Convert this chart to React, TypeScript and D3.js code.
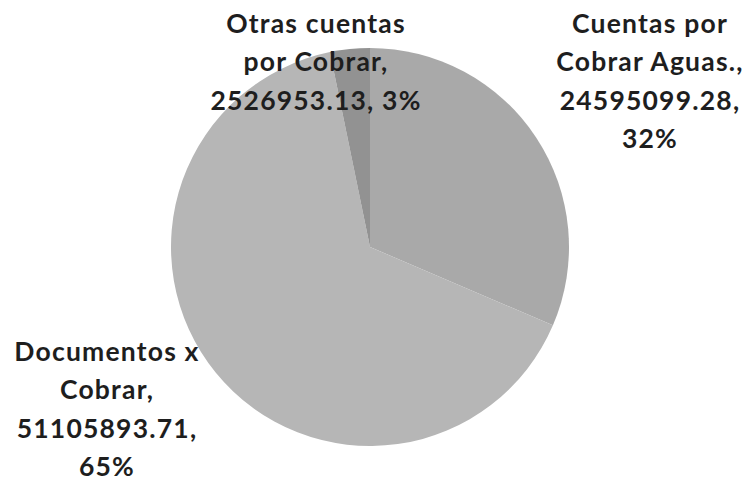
import React from "react";
import * as d3 from "d3";

const categories = ["Cuentas por Cobrar Aguas.", "Documentos x Cobrar", "Otras cuentas por Cobrar"];
const values = [24595099.28, 51105893.71, 2526953.13];
const percentLabels = ["32%", "65%", "3%"];
const labelLines = [
  ["Cuentas por", "Cobrar Aguas.,", "24595099.28,", "32%"],
  ["Documentos x", "Cobrar,", "51105893.71,", "65%"],
  ["Otras cuentas", "por Cobrar,", "2526953.13, 3%"],
];
const colors = ["#a9a9a9", "#b6b6b6", "#929292"];

const W = 751;
const H = 482;
const cx = 370;
const cy = 247;
const R = 199;
const labelAnchors = [
  { x: 650, y: 33 },
  { x: 107, y: 361 },
  { x: 316, y: 33 },
];
const lineH = 38.3;

export default function App() {
  const pie = d3.pie<number>().sort(null).value((d) => d)(values);
  const arc = d3.arc<d3.PieArcDatum<number>>().innerRadius(0).outerRadius(R);
  return (
    <svg width={W} height={H} style={{ position: "absolute", left: 0, top: 0, background: "#fff" }}>
      <g transform={`translate(${cx},${cy})`}>
        {pie.map((p, i) => (
          <path key={categories[i]} d={arc(p) || ""} fill={colors[i]} />
        ))}
      </g>
      {labelLines.map((lines, i) => (
        <text
          key={i}
          textAnchor="middle"
          fontFamily="Lato, 'Open Sans', sans-serif"
          fontWeight="bold"
          fontSize={26.5}
          letterSpacing={1.2}
          fill="#1e1e1e"
        >
          {lines.map((l, j) => (
            <tspan key={j} x={labelAnchors[i].x} y={labelAnchors[i].y + j * lineH}>
              {l}
            </tspan>
          ))}
        </text>
      ))}
    </svg>
  );
}
